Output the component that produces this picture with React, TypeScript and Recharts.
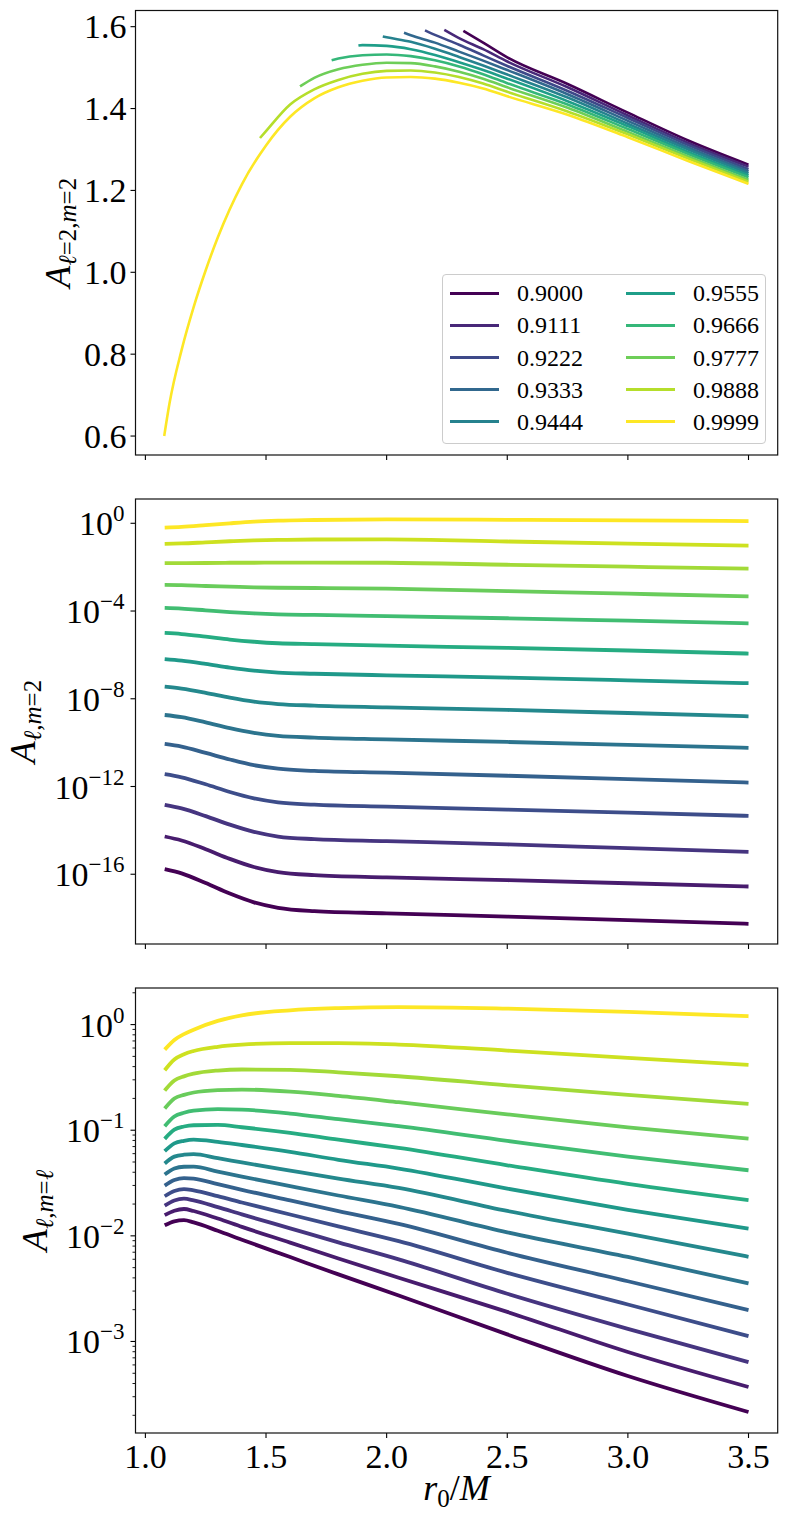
import React from "react";
import { LineChart, Line, XAxis, YAxis } from "recharts";

const serif = "'Liberation Serif', 'DejaVu Serif', serif";

// shared x axis: r0/M
const rDomain: [number, number] = [0.959, 3.621];
const rTicks = [1.0, 1.5, 2.0, 2.5, 3.0, 3.5];

// ---------- top panel: A_{l=2,m=2}, one curve per spin ----------
const spins = ["0.9000", "0.9111", "0.9222", "0.9333", "0.9444", "0.9555", "0.9666", "0.9777", "0.9888", "0.9999"];
const spinColors = ["#440154", "#482878", "#3e4989", "#31688e", "#26828e", "#1f9e89", "#35b779", "#6ece58", "#b5de2b", "#fde725"];

// each curve starts at its own r0, then follows the grid points after it
const topStartR = [2.318, 2.239, 2.159, 2.072, 1.984, 1.883, 1.772, 1.641, 1.475, 1.078];
const topStartA = [1.59, 1.592, 1.591, 1.585, 1.576, 1.554, 1.518, 1.454, 1.328, 0.6];
const topGrid = [1.1, 1.15, 1.2, 1.25, 1.3, 1.4, 1.5, 1.6, 1.7, 1.8, 1.9, 2.0, 2.1, 2.2, 2.3, 2.4, 2.5, 2.75, 3.0, 3.25, 3.5];
// values on the last n grid points (n = length of the list)
const topA = [
  [1.561, 1.525, 1.46, 1.39, 1.322, 1.263],
  [1.572, 1.545, 1.515, 1.452, 1.383, 1.316, 1.258],
  [1.58, 1.556, 1.53, 1.504, 1.443, 1.377, 1.311, 1.252],
  [1.579, 1.561, 1.539, 1.517, 1.494, 1.435, 1.37, 1.305, 1.247],
  [1.574, 1.563, 1.546, 1.526, 1.505, 1.483, 1.427, 1.363, 1.3, 1.242],
  [1.555, 1.553, 1.545, 1.531, 1.513, 1.494, 1.473, 1.418, 1.357, 1.294, 1.237],
  [1.522, 1.53, 1.532, 1.528, 1.518, 1.503, 1.484, 1.462, 1.41, 1.35, 1.289, 1.232],
  [1.475, 1.496, 1.507, 1.512, 1.511, 1.503, 1.49, 1.473, 1.452, 1.402, 1.343, 1.283, 1.226],
  [1.345, 1.41, 1.447, 1.47, 1.485, 1.492, 1.493, 1.488, 1.477, 1.461, 1.441, 1.393, 1.337, 1.278, 1.221],
  [0.68, 0.81, 0.915, 1.005, 1.085, 1.215, 1.31, 1.38, 1.425, 1.452, 1.468, 1.476, 1.477, 1.473, 1.463, 1.449, 1.43, 1.385, 1.33, 1.272, 1.216],
];
const topDomain: [number, number] = [0.5537, 1.6395];
const topTicks = [0.6, 0.8, 1.0, 1.2, 1.4, 1.6];

// ---------- middle + bottom panels: 14 modes, viridis ----------
const modeColors = ["#440154", "#481c6e", "#463580", "#3d4d8a", "#34618d", "#2c748e", "#24888d", "#1f998a", "#26ac82", "#41bd72", "#69cc5b", "#a2da38", "#cde120", "#fde725"];

// middle panel: log10 of A_{l,m=2}
const midR = [1.08, 1.15, 1.25, 1.35, 1.45, 1.55, 1.7, 2.0, 2.5, 3.0, 3.5];
const midLogA = [
  [-15.77, -15.96, -16.4, -16.88, -17.28, -17.53, -17.68, -17.78, -17.93, -18.09, -18.26],
  [-14.28, -14.46, -14.86, -15.3, -15.67, -15.9, -16.04, -16.14, -16.27, -16.41, -16.56],
  [-12.84, -13.0, -13.35, -13.74, -14.07, -14.28, -14.4, -14.49, -14.64, -14.81, -14.98],
  [-11.44, -11.58, -11.9, -12.25, -12.54, -12.72, -12.83, -12.92, -13.05, -13.19, -13.34],
  [-10.06, -10.18, -10.47, -10.77, -11.03, -11.19, -11.29, -11.37, -11.51, -11.66, -11.82],
  [-8.74, -8.84, -9.08, -9.34, -9.55, -9.69, -9.77, -9.85, -9.97, -10.1, -10.24],
  [-7.45, -7.54, -7.73, -7.95, -8.13, -8.24, -8.31, -8.39, -8.51, -8.65, -8.8],
  [-6.19, -6.26, -6.41, -6.58, -6.72, -6.81, -6.86, -6.93, -7.04, -7.16, -7.29],
  [-5.0, -5.05, -5.17, -5.3, -5.4, -5.47, -5.51, -5.58, -5.68, -5.8, -5.94],
  [-3.86, -3.89, -3.97, -4.05, -4.11, -4.15, -4.18, -4.23, -4.33, -4.44, -4.56],
  [-2.81, -2.82, -2.86, -2.89, -2.92, -2.94, -2.95, -2.98, -3.09, -3.21, -3.33],
  [-1.82, -1.82, -1.81, -1.8, -1.8, -1.79, -1.79, -1.8, -1.89, -1.98, -2.07],
  [-0.94, -0.92, -0.87, -0.82, -0.78, -0.76, -0.74, -0.73, -0.83, -0.93, -1.02],
  [-0.2, -0.165, -0.085, 0.0, 0.075, 0.12, 0.15, 0.18, 0.16, 0.133, 0.1],
];
const midDomain: [number, number] = [6.6e-20, 12.8];
const midTicks = [1e-16, 1e-12, 1e-8, 1e-4, 1];

// bottom panel: log10 of A_{l,m=l}
const lowR = [1.08, 1.12, 1.16, 1.2, 1.3, 1.4, 1.6, 1.8, 2.05, 2.5, 3.0, 3.5];
const lowLogA = [
  [-1.9, -1.862, -1.852, -1.873, -1.952, -2.037, -2.201, -2.365, -2.565, -2.933, -3.327, -3.668],
  [-1.804, -1.762, -1.746, -1.765, -1.836, -1.915, -2.064, -2.214, -2.397, -2.72, -3.1, -3.431],
  [-1.713, -1.665, -1.648, -1.664, -1.728, -1.797, -1.929, -2.062, -2.223, -2.548, -2.88, -3.195],
  [-1.625, -1.575, -1.557, -1.57, -1.624, -1.684, -1.798, -1.911, -2.05, -2.35, -2.65, -2.949],
  [-1.524, -1.472, -1.453, -1.458, -1.51, -1.564, -1.665, -1.765, -1.887, -2.16, -2.43, -2.703],
  [-1.42, -1.363, -1.346, -1.345, -1.392, -1.439, -1.529, -1.618, -1.725, -1.967, -2.2, -2.45],
  [-1.315, -1.25, -1.232, -1.227, -1.265, -1.305, -1.382, -1.458, -1.546, -1.764, -1.98, -2.198],
  [-1.199, -1.125, -1.1, -1.089, -1.11, -1.14, -1.205, -1.28, -1.363, -1.553, -1.753, -1.932],
  [-1.082, -0.995, -0.965, -0.953, -0.95, -0.972, -1.025, -1.09, -1.167, -1.332, -1.508, -1.662],
  [-0.962, -0.87, -0.835, -0.815, -0.8, -0.805, -0.842, -0.896, -0.962, -1.101, -1.25, -1.379],
  [-0.795, -0.7, -0.665, -0.643, -0.62, -0.615, -0.635, -0.675, -0.735, -0.85, -0.973, -1.079],
  [-0.625, -0.53, -0.49, -0.465, -0.435, -0.425, -0.428, -0.452, -0.489, -0.575, -0.665, -0.751],
  [-0.432, -0.33, -0.28, -0.25, -0.21, -0.19, -0.175, -0.175, -0.189, -0.246, -0.315, -0.382],
  [-0.237, -0.145, -0.09, -0.048, 0.035, 0.088, 0.135, 0.156, 0.166, 0.151, 0.12, 0.079],
];
const lowDomain: [number, number] = [1.36e-4, 2.22];
const lowMajor = [1e-3, 1e-2, 1e-1, 1];
const lowMinor = [-4, -3, -2, -1, 0]
  .flatMap((e) => [2, 3, 4, 5, 6, 7, 8, 9].map((m) => m * Math.pow(10, e)))
  .filter((v) => v > lowDomain[0] && v < lowDomain[1]);

// ---------- tables for recharts ----------
const topSeries = topA.map((vals, i) => [
  { r: topStartR[i], a: topStartA[i] },
  ...topGrid.slice(topGrid.length - vals.length).map((r, j) => ({ r, a: vals[j] })),
]);

const toRows = (grid: number[], logs: number[][]) =>
  grid.map((r, j) => {
    const row: Record<string, number> = { r };
    logs.forEach((arr, i) => {
      row[`c${i}`] = Math.pow(10, arr[j]);
    });
    return row;
  });
const midRows = toRows(midR, midLogA);
const lowRows = toRows(lowR, lowLogA);

// ---------- ticks and titles ----------
const XTick = (props: any) => {
  const { x, y, payload, withLabel } = props;
  return (
    <g>
      <line x1={x} x2={x} y1={y} y2={y + 5} stroke="#000" strokeWidth={1.1} />
      {withLabel && (
        <text x={x} y={y + 35} textAnchor="middle" fontFamily={serif} fontSize={34} fill="#000">
          {Number(payload.value).toFixed(1)}
        </text>
      )}
    </g>
  );
};

const LinTick = (props: any) => {
  const { x, y, payload } = props;
  return (
    <g>
      <line x1={x} x2={x - 5} y1={y} y2={y} stroke="#000" strokeWidth={1.1} />
      <text x={x - 9} y={y + 11.5} textAnchor="end" fontFamily={serif} fontSize={34} fill="#000">
        {Number(payload.value).toFixed(1)}
      </text>
    </g>
  );
};

const LogTick = (props: any) => {
  const { x, y, payload } = props;
  const e = Math.log10(payload.value);
  const major = Math.abs(e - Math.round(e)) < 1e-6;
  const ex = Math.round(e);
  return (
    <g>
      <line x1={x} x2={x - (major ? 5 : 3)} y1={y} y2={y} stroke="#000" strokeWidth={major ? 1.1 : 0.9} />
      {major && (
        <text x={x - 11} y={y + 12} textAnchor="end" fontFamily={serif} fontSize={34} fill="#000">
          10
          <tspan dy={-14} fontSize={23}>
            {ex < 0 ? `\u2212${-ex}` : `${ex}`}
          </tspan>
        </text>
      )}
    </g>
  );
};

const YTitle = (baseX: number, sub: React.ReactNode) => (props: any) => {
  const vb = props.viewBox || { x: 0, y: 0, width: 0, height: 0 };
  const cx = vb.x + baseX;
  const cy = vb.y + vb.height / 2;
  return (
    <text
      x={cx}
      y={cy}
      transform={`rotate(-90 ${cx} ${cy})`}
      textAnchor="middle"
      fontFamily={serif}
      fill="#000"
    >
      <tspan fontStyle="italic" fontSize={36}>A</tspan>
      <tspan fontSize={25} dy={6}>{sub}</tspan>
    </text>
  );
};

const XTitle = (props: any) => {
  const vb = props.viewBox || { x: 0, y: 0, width: 0, height: 0 };
  const cx = vb.x + vb.width / 2;
  const by = vb.y + 67;
  return (
    <text x={cx} y={by} textAnchor="middle" fontFamily={serif} fill="#000" fontSize={36}>
      <tspan fontStyle="italic">r</tspan>
      <tspan fontSize={25} dy={7}>0</tspan>
      <tspan dy={-7}>/</tspan>
      <tspan fontStyle="italic">M</tspan>
    </text>
  );
};

const xAxisProps = {
  dataKey: "r",
  type: "number" as const,
  domain: rDomain,
  ticks: rTicks,
  allowDataOverflow: true,
  tickLine: false,
  axisLine: false,
  tickSize: 0,
  tickMargin: 0,
  interval: 0 as const,
};

// plot boxes (page pixels): left, top, right, bottom
const frames = [
  [135.5, 10.5, 777.7, 455],
  [135.5, 499, 777.7, 944],
  [135.5, 988, 777.7, 1433],
];

export default function App() {
  return (
    <div style={{ position: "relative", width: 788, height: 1526, background: "#fff", overflow: "hidden" }}>
      <style>{"body{margin:0;background:#fff}"}</style>

      <div style={{ position: "absolute", left: 0, top: 0 }}>
        <LineChart width={788} height={488} margin={{ top: 10.5, right: 10.3, bottom: 0, left: 0 }}>
          <XAxis {...xAxisProps} height={33} tick={(p: any) => <XTick {...p} />} />
          <YAxis
            type="number"
            domain={topDomain}
            ticks={topTicks}
            allowDataOverflow
            width={135.5}
            tickLine={false}
            axisLine={false}
            tickSize={0}
            tickMargin={0}
            interval={0}
            tick={(p: any) => <LinTick {...p} />}
            label={YTitle(70, <>
              <tspan fontStyle="italic">ℓ</tspan>=2,<tspan fontStyle="italic">m</tspan>=2
            </>)}
          />
          {topSeries.map((pts, i) => (
            <Line
              key={spins[i]}
              data={pts}
              dataKey="a"
              type="monotone"
              stroke={spinColors[i]}
              strokeWidth={2.6}
              dot={false}
              activeDot={false}
              isAnimationActive={false}
            />
          ))}
        </LineChart>
      </div>

      <div style={{ position: "absolute", left: 0, top: 488 }}>
        <LineChart width={788} height={488} data={midRows} margin={{ top: 11, right: 10.3, bottom: 0, left: 0 }}>
          <XAxis {...xAxisProps} height={32} tick={(p: any) => <XTick {...p} />} />
          <YAxis
            type="number"
            scale="log"
            domain={midDomain}
            ticks={midTicks}
            allowDataOverflow
            width={135.5}
            tickLine={false}
            axisLine={false}
            tickSize={0}
            tickMargin={0}
            interval={0}
            tick={(p: any) => <LogTick {...p} />}
            label={YTitle(35, <>
              <tspan fontStyle="italic">ℓ</tspan>,<tspan fontStyle="italic">m</tspan>=2
            </>)}
          />
          {modeColors.map((c, i) => (
            <Line
              key={`m${i}`}
              dataKey={`c${i}`}
              type="monotone"
              stroke={c}
              strokeWidth={3.8}
              dot={false}
              activeDot={false}
              isAnimationActive={false}
            />
          ))}
        </LineChart>
      </div>

      <div style={{ position: "absolute", left: 0, top: 976 }}>
        <LineChart width={788} height={550} data={lowRows} margin={{ top: 12, right: 10.3, bottom: 0, left: 0 }}>
          <XAxis
            {...xAxisProps}
            height={93}
            tick={(p: any) => <XTick {...p} withLabel />}
            label={XTitle}
          />
          <YAxis
            type="number"
            scale="log"
            domain={lowDomain}
            ticks={[...lowMajor, ...lowMinor]}
            allowDataOverflow
            width={135.5}
            tickLine={false}
            axisLine={false}
            tickSize={0}
            tickMargin={0}
            interval={0}
            tick={(p: any) => <LogTick {...p} />}
            label={YTitle(47, <>
              <tspan fontStyle="italic">ℓ</tspan>,<tspan fontStyle="italic">m</tspan>=<tspan fontStyle="italic">ℓ</tspan>
            </>)}
          />
          {modeColors.map((c, i) => (
            <Line
              key={`l${i}`}
              dataKey={`c${i}`}
              type="monotone"
              stroke={c}
              strokeWidth={3.8}
              dot={false}
              activeDot={false}
              isAnimationActive={false}
            />
          ))}
        </LineChart>
      </div>

      <svg width={788} height={1526} style={{ position: "absolute", left: 0, top: 0, pointerEvents: "none" }}>
        {frames.map(([l, t, r, b], i) => (
          <rect key={i} x={l} y={t} width={r - l} height={b - t} fill="none" stroke="#111" strokeWidth={1.2} />
        ))}
      </svg>

      <div
        style={{
          position: "absolute",
          left: 442,
          top: 274,
          width: 324,
          height: 170,
          boxSizing: "border-box",
          border: "1px solid #cccccc",
          borderRadius: 4,
          background: "rgba(255,255,255,0.85)",
          fontFamily: serif,
          fontSize: 24,
          color: "#000",
        }}
      >
        {spins.map((s, i) => {
          const col = Math.floor(i / 5);
          const row = i % 5;
          const cy = 18.3 + row * 32.1;
          const lx = col === 0 ? 7 : 183;
          return (
            <React.Fragment key={s}>
              <div
                style={{
                  position: "absolute",
                  left: lx,
                  top: cy - 1.5,
                  width: 49,
                  height: 3,
                  background: spinColors[i],
                }}
              />
              <div style={{ position: "absolute", left: lx + 67, top: cy - 12, lineHeight: "24px", whiteSpace: "nowrap" }}>
                {s}
              </div>
            </React.Fragment>
          );
        })}
      </div>
    </div>
  );
}
